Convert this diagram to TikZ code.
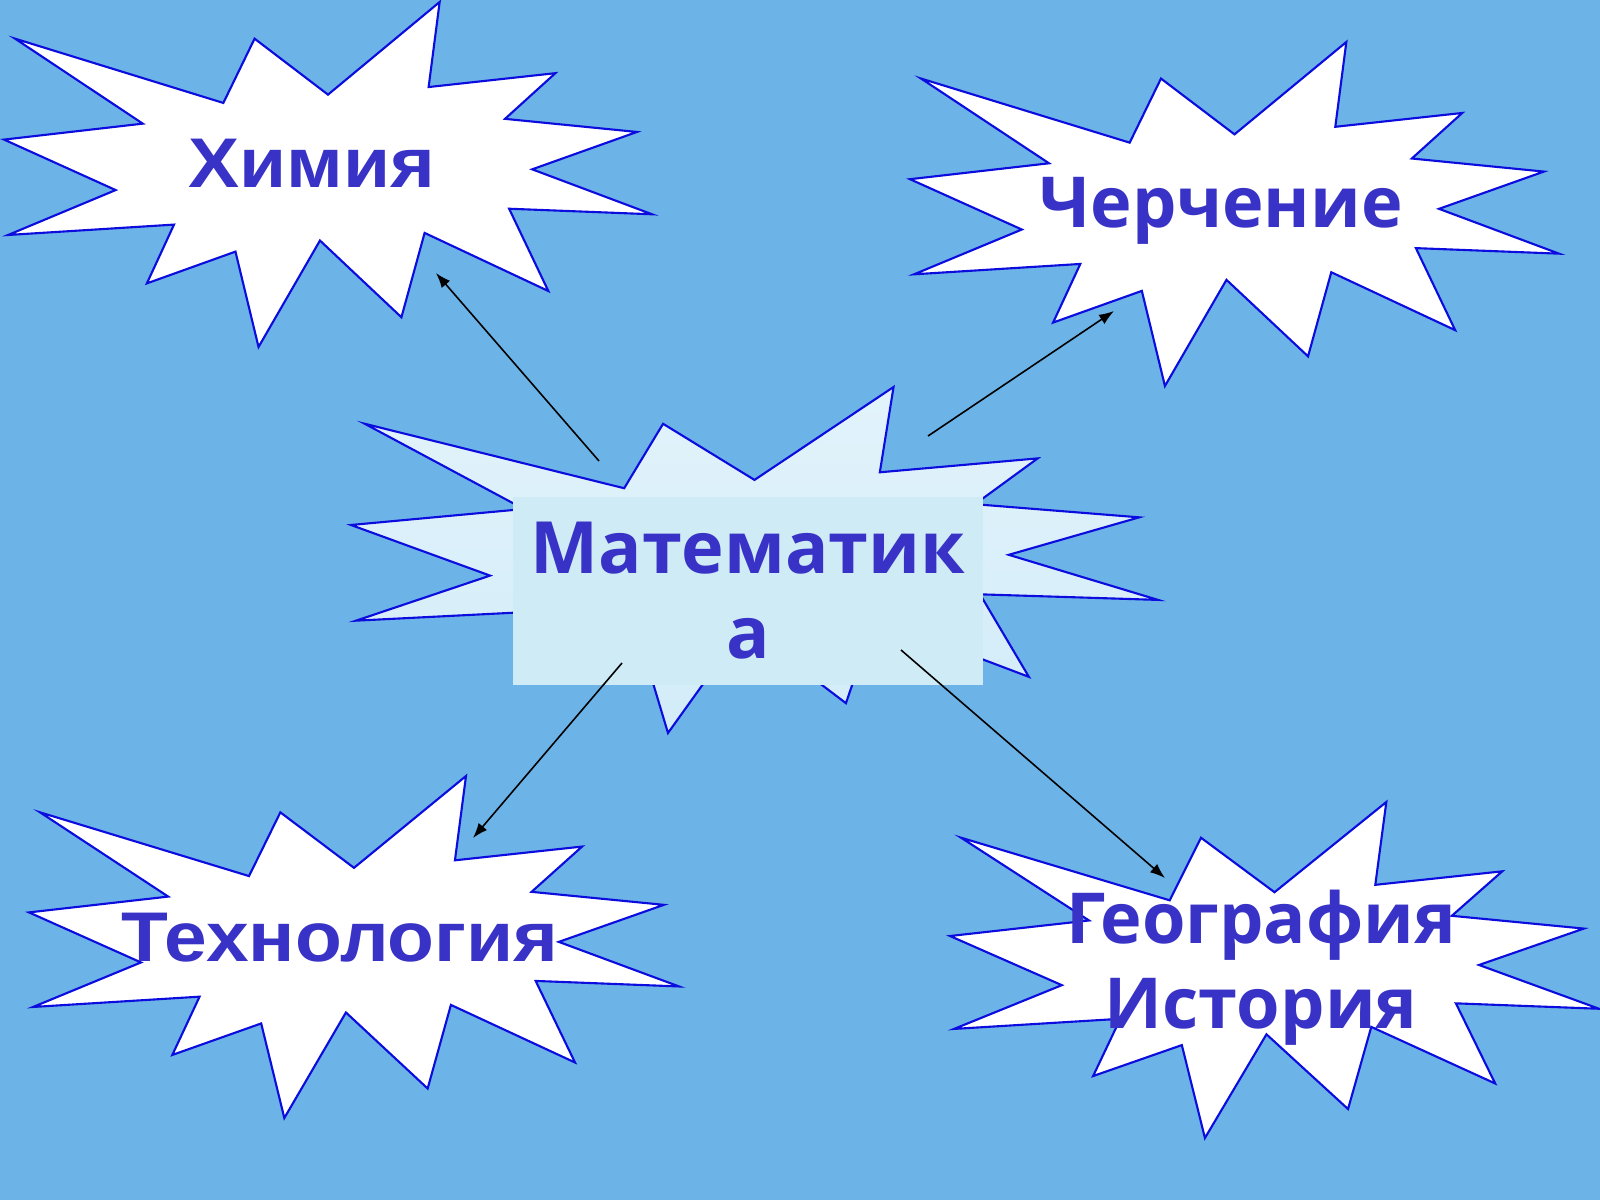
\documentclass[tikz,border=0pt]{standalone}
\usepackage{fontspec}
\usetikzlibrary{arrows.meta}
\newfontfamily\arialfont[FakeStretch=1.09]{Liberation Sans}
\newfontfamily\opensansfont{Open Sans}
\definecolor{sky}{RGB}{108,179,231}
\definecolor{inkblue}{RGB}{56,50,198}
\definecolor{rimblue}{RGB}{12,12,222}
\definecolor{paleblue}{RGB}{207,235,246}
\definecolor{palestar}{RGB}{226,243,251}
\definecolor{palestarb}{RGB}{210,236,248}
\def\burst[#1](#2,#3)(#4:#5){\draw[#1, shift={(#2,#3)}, xscale=#4/100, yscale=#5/100] (50.00,26.85) -- (67.23,0) -- (65.53,24.65) -- (85.09,20.63) -- (77.32,33.87) -- (97.67,37.67) -- (81.51,48.50) -- (100,61.53) -- (77.95,59.92) -- (84.00,83.77) -- (64.91,66.93) -- (61.33,91.38) -- (48.76,69.14) -- (39.28,100) -- (35.72,72.35) -- (22.05,81.56) -- (26.24,64.52) -- (0.63,67.53) -- (17.23,54.51) -- (0,39.88) -- (21.42,35.26) -- (1.71,10.63) -- (33.85,29.26) -- (38.67,10.63) -- cycle;}

\begin{document}
\begin{tikzpicture}[x=0.01cm, y=-0.01cm,
		rim/.style={draw=rimblue, line width=0.6pt, line join=miter},
		word/.style={inner sep=0pt, text=inkblue},
		link/.style={-{Latex[length=1.5mm,width=1.1mm]}, line width=0.45pt, black}]
			%%%%% START %%%%%
			
			\useasboundingbox (0,0) rectangle (1600,1200);
			\fill[sky] (0,0) rectangle (1600,1200);
			
			\burst[rim, fill=white](4,2)(648:345)
			\burst[rim, fill=white](910,42)(649:344)
			\burst[rim, fill=white](29,776)(650:342)
			\burst[rim, fill=white](950,802)(649:336)
			\burst[rim, top color=palestar, bottom color=palestarb](351,387)(807:346)
			
			\node[fill=paleblue, minimum width=4.70cm, minimum height=1.88cm, inner sep=0pt, text=inkblue, align=center, font=\opensansfont\bfseries\fontsize{20.5}{24.2}\selectfont] (math) at (748,591) {Математик\\а};
			
			\node[word, anchor=base, font=\arialfont\bfseries\fontsize{20}{24}\selectfont] (chem) at (312,187) {Химия};
			\node[word, anchor=base, font=\opensansfont\bfseries\fontsize{20}{24}\selectfont] (draft) at (1221,227) {Черчение};
			\node[word, anchor=base, font=\arialfont\bfseries\fontsize{20}{24}\selectfont] (tech) at (340,961) {Технология};
			\node[word, align=center, font=\opensansfont\bfseries\fontsize{20}{24.2}\selectfont] (geo) at (1261,968) {География\\История};
			
			\coordinate (mathchem) at (599,461);
			\coordinate (mathdraft) at (928,436);
			\coordinate (mathtech) at (622,663);
			\coordinate (mathgeo) at (901,650);
			\coordinate (chemtip) at (436,273);
			\coordinate (drafttip) at (1114,311);
			\coordinate (techtip) at (473,838);
			\coordinate (geotip) at (1165,878);
			
			\draw[link] (mathchem) -- (chemtip);
			\draw[link] (mathdraft) -- (drafttip);
			\draw[link] (mathtech) -- (techtip);
			\draw[link] (mathgeo) -- (geotip);
			
			%%%%% END %%%%%
\end{tikzpicture}
\end{document}
